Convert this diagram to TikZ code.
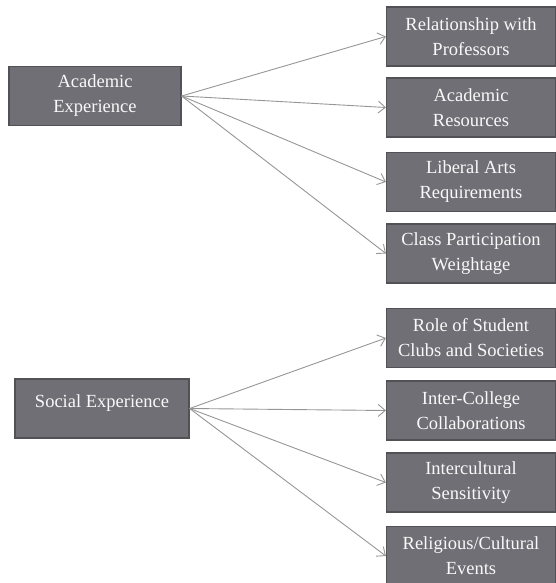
\documentclass[tikz,border=0pt]{standalone}
\usepackage{fontspec}
\setmainfont{Liberation Serif}
\usepackage{tikz}
\usetikzlibrary{positioning,arrows.meta}
\definecolor{boxgray}{RGB}{112,111,117}
\definecolor{edgegray}{RGB}{82,82,86}
\definecolor{linegray}{RGB}{150,150,150}

\begin{document}
\begin{tikzpicture}[x=1pt,y=-1pt,
    factor/.style={draw=edgegray, line width=1.2pt, fill=boxgray, text=white!95!gray, font=\fontsize{18.5}{25}\selectfont, align=center, inner sep=0pt},
    mainbox/.style={factor, minimum width=172pt, minimum height=59pt},
    subbox/.style={factor, minimum width=169pt, minimum height=59pt},
    link/.style={draw=linegray, line width=0.9pt, -{Straight Barb[length=7pt,width=12pt]}}]
    \useasboundingbox (0,0) rectangle (556,583);

    % Academic experience
    \node[mainbox] (acad) at (95,96) {Academic\\Experience};
    \node[subbox] (rel) at (471,36.5) {Relationship with\\Professors};
    \node[subbox] (res) at (471,107.5) {Academic\\Resources};
    \node[subbox] (lib) at (471,182) {Liberal Arts\\Requirements};
    \node[subbox] (cls) at (471,253.5) {Class Participation\\Weightage};
    \foreach \t in {rel,res,lib,cls}
        \draw[link] (acad.east) -- (\t.west);

    % Social experience
    \node[mainbox, minimum width=174pt] (soc) at (102,408.5) {Social Experience\\[-10pt]~};
    \node[subbox] (club) at (471,338) {Role of Student\\Clubs and Societies};
    \node[subbox] (inter) at (471,410.5) {Inter-College\\Collaborations};
    \node[subbox] (icult) at (471,482.5) {Intercultural\\Sensitivity};
    \node[subbox] (relig) at (471,556) {Religious/Cultural\\Events};
    \foreach \t in {club,inter,icult,relig}
        \draw[link] (soc.east) -- (\t.west);
\end{tikzpicture}
\end{document}
